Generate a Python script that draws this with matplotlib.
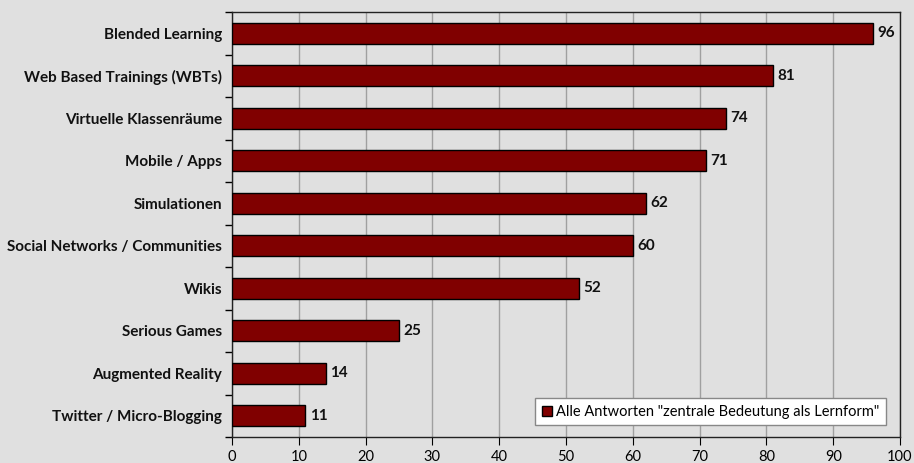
import matplotlib.pyplot as plt
import numpy as np

categories = ["Blended Learning", "Web Based Trainings (WBTs)", "Virtuelle Klassenräume",
              "Mobile / Apps", "Simulationen", "Social Networks / Communities", "Wikis",
              "Serious Games", "Augmented Reality", "Twitter / Micro-Blogging"]
values = [96, 81, 74, 71, 62, 60, 52, 25, 14, 11]
legend_label = 'Alle Antworten "zentrale Bedeutung als Lernform"'

plt.rcParams['font.family'] = ['Lato', 'DejaVu Sans']

bg = "#e0e0e0"
fig = plt.figure(figsize=(9.14, 4.63), dpi=100, facecolor=bg)
ax = fig.add_axes([232 / 914, 26 / 463, 668 / 914, 425 / 463], facecolor=bg)

y = np.arange(len(categories))
ax.barh(y, values, height=0.5, color="#800000", edgecolor="black",
        linewidth=1, label=legend_label, zorder=3)

for yi, v in zip(y, values):
    ax.annotate(str(v), (v, yi), xytext=(3, 0), textcoords="offset points",
                va="center", ha="left", fontsize=11, fontweight="bold", color="#111111")

ax.set_ylim(len(categories) - 0.5, -0.5)
ax.set_xlim(0, 100)
ax.set_xticks(range(0, 101, 10))
ax.xaxis.grid(True, color="#a0a0a0", linewidth=1, zorder=0)

ax.set_yticks(y)
ax.set_yticklabels(categories, fontsize=11, fontweight="bold", color="#111111")
ax.tick_params(axis="y", which="major", length=0, pad=7)
ax.set_yticks(np.arange(-0.5, len(categories) + 0.5, 1), minor=True)
ax.tick_params(axis="y", which="minor", length=5, direction="out", width=1)
ax.tick_params(axis="x", length=6, direction="out", labelsize=10.5, colors="black")

for s in ax.spines.values():
    s.set_color("#222222")
    s.set_linewidth(1)

ax.legend(loc="lower right", bbox_to_anchor=(0.99, 0.01), fontsize=10.5,
          frameon=True, fancybox=False, edgecolor="#888888", facecolor="white",
          framealpha=1, handlelength=0.7, handleheight=0.7, handletextpad=0.3,
          borderpad=0.45)

fig.savefig("out.png", dpi=100, facecolor=bg)
